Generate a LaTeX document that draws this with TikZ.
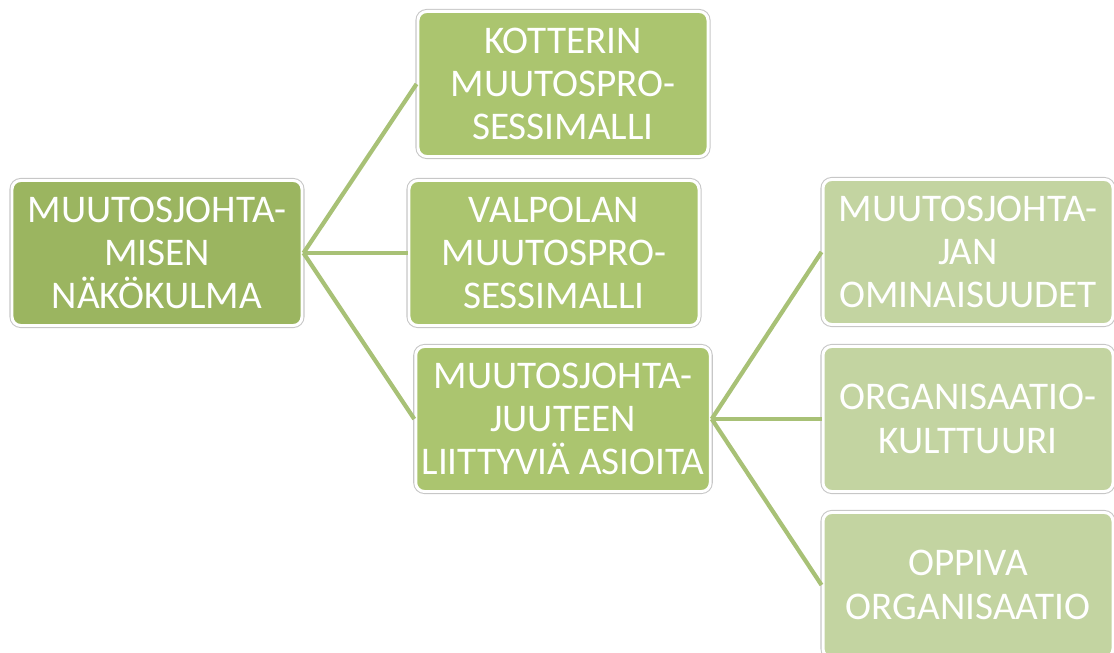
\documentclass[tikz,border=0pt]{standalone}
\usepackage{fontspec}
\setmainfont{Carlito}
\usepackage{xcolor}
\usetikzlibrary{positioning}

\definecolor{darkgr}{RGB}{155,181,96}
\definecolor{midgr}{RGB}{171,197,111}
\definecolor{lightgr}{RGB}{195,212,161}
\definecolor{linkgr}{RGB}{168,193,118}

\tikzset{
  box/.style={rectangle, rounded corners=5pt, draw=white, line width=1.7pt,
    preaction={draw=black!22, line width=2.9pt},
    minimum width=5.8cm, minimum height=2.9cm, align=center, text=white,
    font=\fontsize{22.3}{24.6}\selectfont},
  link/.style={draw=linkgr, line width=2.4pt}
}

\begin{document}
\begin{tikzpicture}[node distance=2cm, on grid]
        \clip (0,0) rectangle (22.28,-13.06);
        \useasboundingbox (0,0) rectangle (22.28,-13.06);

        \node[box, fill=darkgr] (root) at (3.14,-5.06) {MUUTOSJOHTA-\\MISEN\\NÄKÖKULMA};
        \node[box, fill=midgr] (kotter) [above right=3.38cm and 8.12cm of root] {KOTTERIN\\MUUTOSPRO-\\SESSIMALLI};
        \node[box, fill=midgr] (valpola) [right=7.94cm of root] {VALPOLAN\\MUUTOSPRO-\\SESSIMALLI};
        \node[box, fill=midgr] (juuteen) [below=6.7cm of kotter] {MUUTOSJOHTA-\\JUUTEEN\\LIITTYVIÄ ASIOITA};
        \node[box, fill=lightgr] (ominais) [above right=3.34cm and 8.1cm of juuteen] {MUUTOSJOHTA-\\JAN\\OMINAISUUDET};
        \node[box, fill=lightgr] (kulttuuri) [right=8.1cm of juuteen] {ORGANISAATIO-\\KULTTUURI};
        \node[box, fill=lightgr] (oppiva) [below=3.32cm of kulttuuri] {OPPIVA\\ORGANISAATIO};

        \path[link]
        (root.east) edge (kotter.west)
        (root.east) edge (valpola.west)
        (root.east) edge (juuteen.west)
        (juuteen.east) edge (ominais.west)
        (juuteen.east) edge (kulttuuri.west)
        (juuteen.east) edge (oppiva.west);

\end{tikzpicture}
\end{document}
